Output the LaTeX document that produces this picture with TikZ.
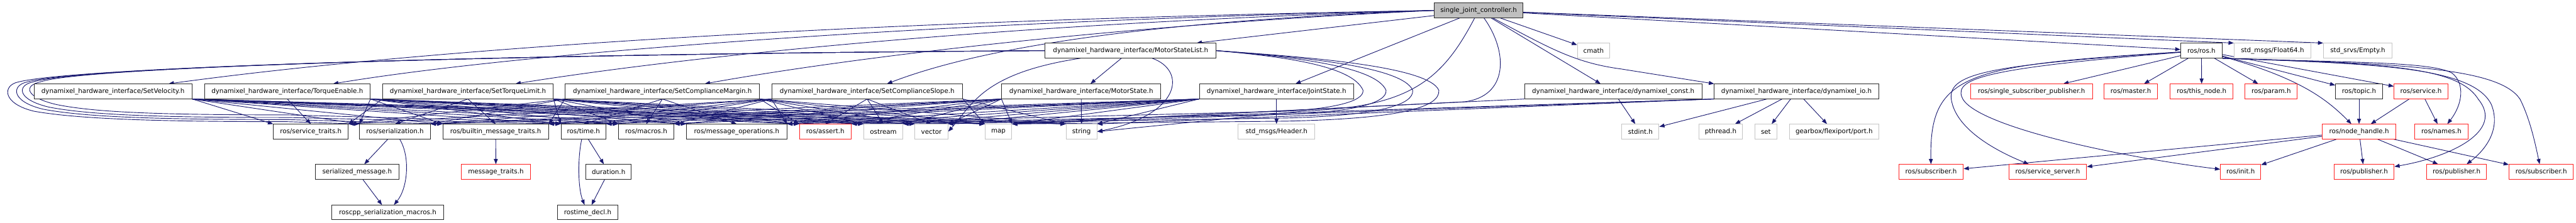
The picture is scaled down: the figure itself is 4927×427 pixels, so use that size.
\documentclass[tikz,border=0pt]{standalone}
\usepackage{fontspec}
\setmainfont{DejaVu Sans}
\usetikzlibrary{arrows.meta}
\definecolor{edgec}{RGB}{25,25,112}
\definecolor{grayb}{RGB}{196,196,196}
\definecolor{redb}{RGB}{255,32,32}
\definecolor{rootf}{RGB}{191,191,191}
\definecolor{darkb}{RGB}{40,40,40}
\pgfdeclarelayer{bg}
\pgfsetlayers{bg,main}
\newdimen\srcLx \newdimen\srcRx \newdimen\tgtCx
\newcommand\autoE[2]{%
  \pgfextractx{\srcLx}{\pgfpointanchor{#1}{west}}%
  \pgfextractx{\srcRx}{\pgfpointanchor{#1}{east}}%
  \pgfextractx{\tgtCx}{\pgfpointanchor{#2}{center}}%
  \ifdim\tgtCx>\srcRx
    \draw[conn] (#1.south east) -- (#2.north west);%
  \else\ifdim\tgtCx<\srcLx
    \draw[conn] (#1.south west) -- (#2.north east);%
  \else
    \draw[conn] (#1.south) -- (#2.north);%
  \fi\fi}
\begin{document}
\begin{tikzpicture}[x=1pt,y=-1pt,
  conn/.style={draw=edgec, line width=1.1pt, -{Triangle[length=10pt,width=7.5pt]}},
  box/.style={rectangle, inner sep=0pt, minimum height=28pt, line width=1.2pt, fill=white, font=\fontsize{12.4pt}{14pt}\selectfont},
  nb/.style={box, draw=darkb},
  gb/.style={box, draw=grayb},
  rb/.style={box, draw=redb},
  rootn/.style={box, draw=darkb, fill=rootf}]
\useasboundingbox (0,0) rectangle (4927,427);
% row 0
\node[rootn, minimum width=170pt] (root) at (2828,20) {single\_joint\_controller.h};
% row 1
\node[nb, minimum width=327pt] (msl) at (2162.5,97) {dynamixel\_hardware\_interface/MotorStateList.h};
\node[gb, minimum width=62pt] (cmath) at (3048,97) {cmath};
\node[nb, minimum width=79pt] (rosh) at (4210.5,97) {ros/ros.h};
\node[gb, minimum width=147pt] (f64) at (4346.5,97) {std\_msgs/Float64.h};
\node[gb, minimum width=131pt] (empty) at (4509.5,97) {std\_srvs/Empty.h};
% row 2
\node[nb, minimum width=302pt] (sv) at (216,175) {dynamixel\_hardware\_interface/SetVelocity.h};
\node[nb, minimum width=317pt] (te) at (549.5,175) {dynamixel\_hardware\_interface/TorqueEnable.h};
\node[nb, minimum width=326pt] (stl) at (895,175) {dynamixel\_hardware\_interface/SetTorqueLimit.h};
\node[nb, minimum width=372pt] (scm) at (1267,175) {dynamixel\_hardware\_interface/SetComplianceMargin.h};
\node[nb, minimum width=365pt] (scs) at (1658.5,175) {dynamixel\_hardware\_interface/SetComplianceSlope.h};
\node[nb, minimum width=304pt] (ms) at (2068,175) {dynamixel\_hardware\_interface/MotorState.h};
\node[nb, minimum width=295pt] (js) at (2441.5,175) {dynamixel\_hardware\_interface/JointState.h};
\node[nb, minimum width=339pt] (dc) at (3085.5,175) {dynamixel\_hardware\_interface/dynamixel\_const.h};
\node[nb, minimum width=314pt] (dio) at (3436,175) {dynamixel\_hardware\_interface/dynamixel\_io.h};
\node[rb, minimum width=233pt] (ssp) at (3885.5,175) {ros/single\_subscriber\_publisher.h};
\node[rb, minimum width=103pt] (master) at (4075.5,175) {ros/master.h};
\node[rb, minimum width=120pt] (thisnode) at (4211,175) {ros/this\_node.h};
\node[rb, minimum width=100pt] (param) at (4344,175) {ros/param.h};
\node[nb, minimum width=90pt] (topic) at (4512,175) {ros/topic.h};
\node[rb, minimum width=103pt] (service) at (4630.5,175) {ros/service.h};
% row 3
\node[nb, minimum width=143pt] (st) at (594.5,252) {ros/service\_traits.h};
\node[nb, minimum width=135pt] (ser) at (755.5,252) {ros/serialization.h};
\node[nb, minimum width=202pt] (bmt) at (948,252) {ros/builtin\_message\_traits.h};
\node[nb, minimum width=86pt] (time) at (1116,252) {ros/time.h};
\node[nb, minimum width=106pt] (macros) at (1236,252) {ros/macros.h};
\node[nb, minimum width=192pt] (mo) at (1409,252) {ros/message\_operations.h};
\node[rb, minimum width=99pt] (assert) at (1578.5,252) {ros/assert.h};
\node[gb, minimum width=75pt] (ostream) at (1689.5,252) {ostream};
\node[gb, minimum width=63pt] (vector) at (1781.5,252) {vector};
\node[gb, minimum width=51pt] (map) at (1909.5,252) {map};
\node[gb, minimum width=59pt] (string) at (2068.5,252) {string};
\node[gb, minimum width=147pt] (header) at (2441.5,252) {std\_msgs/Header.h};
\node[gb, minimum width=71pt] (stdint) at (3137.5,252) {stdint.h};
\node[gb, minimum width=84pt] (pthread) at (3291,252) {pthread.h};
\node[gb, minimum width=43pt] (set) at (3377.5,252) {set};
\node[gb, minimum width=170pt] (port) at (3508,252) {gearbox/flexiport/port.h};
\node[rb, minimum width=140pt] (nh) at (4512,252) {ros/node\_handle.h};
\node[rb, minimum width=103pt] (names) at (4669.5,252) {ros/names.h};
% row 4
\node[nb, minimum width=160pt] (sm) at (683,329) {serialized\_message.h};
\node[rb, minimum width=133pt] (mt) at (948.5,329) {message\_traits.h};
\node[nb, minimum width=86pt] (dur) at (1164,329) {duration.h};
\node[rb, minimum width=123pt] (subA) at (3693.5,329) {ros/subscriber.h};
\node[rb, minimum width=149pt] (ss) at (3916.5,329) {ros/service\_server.h};
\node[rb, minimum width=77pt] (init) at (4285.5,329) {ros/init.h};
\node[rb, minimum width=115pt] (pubA) at (4521.5,329) {ros/publisher.h};
\node[rb, minimum width=115pt] (pubB) at (4698.5,329) {ros/publisher.h};
\node[rb, minimum width=123pt] (subB) at (4860.5,329) {ros/subscriber.h};
% row 5
\node[nb, minimum width=215pt] (rsm) at (741.5,407) {roscpp\_serialization\_macros.h};
\node[nb, minimum width=116pt] (rtd) at (1124,407) {rostime\_decl.h};

\begin{pgfonlayer}{bg}
% root
\draw[conn] (root.west) .. controls (1600,40) and (800,95) .. (sv);
\draw[conn] (root.west) .. controls (1800,40) and (1000,100) .. (te);
\draw[conn] (root.west) .. controls (1900,45) and (1300,110) .. (stl);
\draw[conn] (root.west) .. controls (2100,50) and (1600,115) .. (scm);
\draw[conn] (root.west) .. controls (2200,40) and (1880,90) .. (scs);
\draw[conn] (root) -- (msl);
\draw[conn] (root) -- (js);
\draw[conn] (root) -- (dc);
\draw[conn] (root) -- (cmath);
\draw[conn] (root) .. controls (2960,90) and (3010,120) .. (3100,132) -- (dio.north west);
\draw[conn] (root) -- (rosh);
\draw[conn] (root) -- (f64.north west);
\draw[conn] (root) -- (empty.north west);
\draw[conn] (root) .. controls (2760,150) and (2700,205) .. (2500,212) -- (string.east);
\draw[conn] (root) .. controls (2885,100) and (2885,185) .. (2800,195) -- (map.north east);
% MotorStateList
\draw[conn] (msl) -- (ms);
\draw[conn] (msl) .. controls (2270,135) and (2260,220) .. (string.east);
\draw[conn] (msl) .. controls (1880,140) and (1860,200) .. (vector.east);
\draw[conn] (msl.west) .. controls (1000,103) and (150,128) .. (35,157) .. controls (5,163) and (3,198) .. (65,213) .. controls (150,228) and (300,233) .. (550,233) -- (ser.north west);
\draw[conn] (msl.west) .. controls (1000,103) and (150,128) .. (52,157) .. controls (22,163) and (20,194) .. (82,209) .. controls (160,224) and (300,229) .. (550,229) -- (bmt.north west);
\draw[conn] (msl.west) .. controls (1000,103) and (150,128) .. (63,157) .. controls (33,163) and (31,190) .. (93,205) .. controls (170,220) and (300,225) .. (550,225) -- (time.north west);
\draw[conn] (msl.west) .. controls (1000,103) and (150,128) .. (77,157) .. controls (47,163) and (45,185) .. (107,200) .. controls (180,215) and (300,220) .. (550,220) -- (macros.north west);
\draw[conn] (msl.east) .. controls (2450,108) and (2587,125) .. (2607,173) .. controls (2609,195) and (2547,208) .. (2460,213) -- (mo.north east);
\draw[conn] (msl.east) .. controls (2460,108) and (2631,125) .. (2651,173) .. controls (2653,197) and (2591,214) .. (2460,219) -- (assert.north east);
\draw[conn] (msl.east) .. controls (2470,108) and (2682,125) .. (2702,173) .. controls (2704,200) and (2642,221) .. (2460,226) -- (ostream.north east);
\draw[conn] (msl.east) .. controls (2480,108) and (2732,125) .. (2752,173) .. controls (2754,203) and (2692,227) .. (2460,232) -- (map.north east);
% message / service headers
\foreach \s in {sv,te,stl,scm,scs}{\foreach \t in {st,ser,bmt,time,macros,mo,assert,ostream,vector,map,string}{\autoE{\s}{\t}}}
\foreach \t in {ser,bmt,time,macros,mo,assert,ostream,vector,map,string}{\autoE{ms}{\t}}
\foreach \t in {ser,bmt,time,macros,mo,assert,ostream,vector,map,string,header}{\autoE{js}{\t}}
% dynamixel const / io
\draw[conn] (dc) -- (stdint);
\draw[conn] (dc.south west) -- (map.north east);
\draw[conn] (dio) -- (stdint);
\draw[conn] (dio) -- (pthread);
\draw[conn] (dio) -- (set);
\draw[conn] (dio) -- (port);
\draw[conn] (dio.south west) -- (string.north east);
\draw[conn] (dio.south west) -- (vector.north east);
\draw[conn] (dio.south west) -- (map.north east);
% serialization / time
\draw[conn] (ser) -- (sm);
\draw[conn] (ser) .. controls (785,300) and (780,360) .. (rsm);
\draw[conn] (sm) -- (rsm);
\draw[conn] (bmt) -- (mt);
\draw[conn] (time) -- (dur);
\draw[conn] (time) .. controls (1105,300) and (1105,360) .. (rtd);
\draw[conn] (dur) -- (rtd);
% ros.h
\draw[conn] (rosh) -- (ssp);
\draw[conn] (rosh) -- (master);
\draw[conn] (rosh) -- (thisnode);
\draw[conn] (rosh) -- (param);
\draw[conn] (rosh) -- (topic);
\draw[conn] (rosh) -- (service);
\draw[conn] (rosh) .. controls (4400,150) and (4450,190) .. (nh);
\draw[conn] (rosh) .. controls (3760,125) and (3690,140) .. (subA);
\draw[conn] (rosh) .. controls (3800,125) and (3720,140) .. (3733,195) .. controls (3745,250) and (3820,290) .. (ss);
\draw[conn] (rosh) .. controls (3800,130) and (3740,150) .. (3752,185) .. controls (3770,240) and (4050,300) .. (init);
\draw[conn] (rosh.south east) .. controls (4500,120) and (4650,118) .. (4690,140) .. controls (4715,160) and (4710,200) .. (names);
\draw[conn] (rosh.south east) .. controls (4550,122) and (4700,125) .. (4740,190) .. controls (4790,250) and (4690,300) .. (pubA);
\draw[conn] (rosh.south east) .. controls (4560,122) and (4730,130) .. (4765,200) .. controls (4785,250) and (4750,290) .. (pubB);
\draw[conn] (rosh.south east) .. controls (4600,122) and (4780,130) .. (4820,190) .. controls (4840,230) and (4850,280) .. (subB);
\draw[conn] (topic) -- (nh);
\draw[conn] (service) -- (nh);
\draw[conn] (service) -- (names);
\draw[conn] (nh) -- (subA);
\draw[conn] (nh) -- (ss);
\draw[conn] (nh) -- (init);
\draw[conn] (nh) -- (pubA);
\draw[conn] (nh) -- (pubB);
\draw[conn] (nh) -- (subB);
\end{pgfonlayer}
\end{tikzpicture}
\end{document}
